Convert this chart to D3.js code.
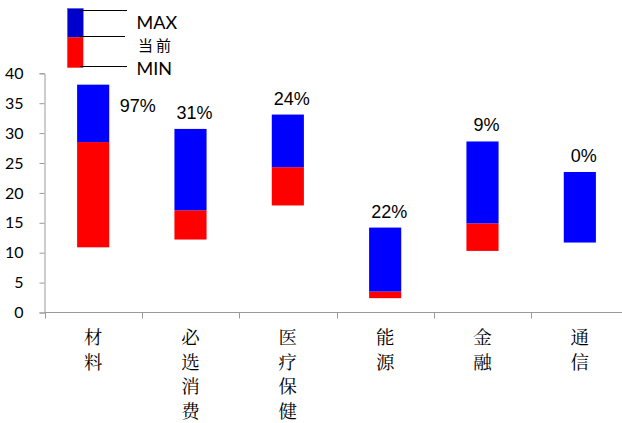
<!DOCTYPE html>
<html>
<head>
<meta charset="utf-8">
<script src="https://cdn.jsdelivr.net/npm/d3@7"></script>
<style>
  body { margin: 0; background: #fff; }
  svg { display: block; }
</style>
</head>
<body>
<div class="container"></div>
<script>
(function(){

    var categories = ["材料", "必选消费", "医疗保健", "能源", "金融", "通信"];
    var maxVals = [38.1, 30.7, 33.1, 14.2, 28.6, 23.5];
    var curVals = [28.5, 17.1, 24.3, 3.5, 14.9, 11.7];
    var minVals = [10.9, 12.2, 17.9, 2.4, 10.3, 11.7];
    var pctLabels = ["97%", "31%", "24%", "22%", "9%", "0%"];
    var yTicks = [0, 5, 10, 15, 20, 25, 30, 35, 40];
    var legendLabels = ["MAX", "当前", "MIN"];

    var width = 622, height = 423;

    var svg = d3.select(".container").append("svg")
        .attr("width", width)
        .attr("height", height);

    var x = d3.scaleBand()
        .domain(categories)
        .range([44.5, 628.5])
        .paddingInner(0.67)
        .paddingOuter(0.335);

    var y = d3.scaleLinear()
        .domain([0, 40])
        .range([312.5, 73.3]);

    var axisColor = "#9a9a9a";

    // y axis
    var yAxis = svg.append("g")
        .attr("transform", "translate(44.5,0)")
        .call(d3.axisLeft(y).tickValues(yTicks).tickSize(5).tickPadding(16));
    yAxis.select(".domain").attr("stroke", axisColor);
    yAxis.selectAll(".tick line").attr("stroke", axisColor);
    yAxis.selectAll(".tick text")
        .attr("fill", "#000")
        .style("font-family", "Lato, 'Open Sans', sans-serif")
        .style("font-size", "16px");

    // x axis: boundary ticks between categories
    var xg = svg.append("g");
    xg.append("line")
        .attr("x1", 44.5).attr("x2", width)
        .attr("y1", y(0)).attr("y2", y(0))
        .attr("stroke", axisColor);
    xg.selectAll("line.xt")
        .data(categories)
        .enter().append("line")
        .attr("class", "xt")
        .attr("x1", function(d) { return Math.round(x(d) - x.step() * x.paddingOuter()) + 0.5; })
        .attr("x2", function(d) { return Math.round(x(d) - x.step() * x.paddingOuter()) + 0.5; })
        .attr("y1", y(0)).attr("y2", y(0) + 6)
        .attr("stroke", axisColor);

    // category labels, stacked vertically
    var catLabels = svg.selectAll("text.cat")
        .data(categories)
        .enter().append("text")
        .attr("class", "cat")
        .attr("text-anchor", "middle")
        .style("font-family", "'Noto Serif CJK SC', 'Noto Sans CJK SC', sans-serif")
        .style("font-size", "18.5px")
        .attr("fill", "#000");
    catLabels.each(function(d) {
        var cx = x(d) + x.bandwidth() / 2;
        d3.select(this).selectAll("tspan")
            .data(d.split(""))
            .enter().append("tspan")
            .attr("x", cx)
            .attr("y", function(c, i) { return 344 + i * 24.5; })
            .text(function(c) { return c; });
    });

    // bars: red from MIN to current, blue from current to MAX
    svg.selectAll("rect.low")
        .data(categories)
        .enter().append("rect")
        .attr("class", "low")
        .attr("x", function(d) { return x(d); })
        .attr("width", x.bandwidth())
        .attr("y", function(d, i) { return y(curVals[i]); })
        .attr("height", function(d, i) { return y(minVals[i]) - y(curVals[i]); })
        .attr("fill", "#ff0000");

    svg.selectAll("rect.high")
        .data(categories)
        .enter().append("rect")
        .attr("class", "high")
        .attr("x", function(d) { return x(d); })
        .attr("width", x.bandwidth())
        .attr("y", function(d, i) { return y(maxVals[i]); })
        .attr("height", function(d, i) { return y(curVals[i]) - y(maxVals[i]); })
        .attr("fill", "#0000ff");

    // percentile labels
    svg.selectAll("text.pct")
        .data(categories)
        .enter().append("text")
        .attr("class", "pct")
        .attr("x", function(d, i) {
            return i === 0 ? x(d) + x.bandwidth() + 10.5 : x(d) + x.bandwidth() / 2 + 4;
        })
        .attr("y", function(d, i) {
            return i === 0 ? 111.5 : y(maxVals[i]) - 10;
        })
        .attr("text-anchor", function(d, i) { return i === 0 ? "start" : "middle"; })
        .style("font-family", "'Liberation Sans', Arial, sans-serif")
        .style("font-size", "18px")
        .attr("fill", "#000")
        .text(function(d, i) { return pctLabels[i]; });

    // legend
    var lg = svg.append("g");
    lg.append("rect")
        .attr("x", 67.3).attr("y", 8.3).attr("width", 16).attr("height", 29)
        .attr("fill", "#0000cc").attr("stroke", "#7070e0").attr("stroke-width", 0.6);
    lg.append("rect")
        .attr("x", 67.3).attr("y", 37.3).attr("width", 16).attr("height", 30.4)
        .attr("fill", "#ff0000");
    var lineY = [10.5, 36.5, 66.5];
    var lineX2 = [127, 125, 127];
    lg.selectAll("line")
        .data(lineY)
        .enter().append("line")
        .attr("x1", 80).attr("x2", function(d, i) { return lineX2[i]; })
        .attr("y1", function(d) { return d; }).attr("y2", function(d) { return d; })
        .attr("stroke", "#000").attr("stroke-width", 1);
    var textY = [28.5, 51, 75];
    lg.selectAll("text")
        .data(legendLabels)
        .enter().append("text")
        .attr("x", function(d, i) { return i === 1 ? 138 : 136.5; })
        .attr("y", function(d, i) { return textY[i]; })
        .style("font-family", function(d, i) {
            return i === 1 ? "'Noto Sans CJK SC', sans-serif" : "Lato, 'Open Sans', sans-serif";
        })
        .style("font-size", function(d, i) { return i === 1 ? "15px" : "18px"; })
        .style("letter-spacing", function(d, i) { return i === 1 ? "3px" : "0px"; })
        .attr("fill", "#000")
        .text(function(d) { return d; });

})();
</script>
</body>
</html>
